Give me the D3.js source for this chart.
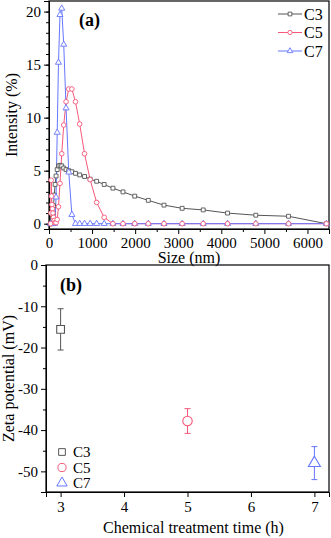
<!DOCTYPE html>
<html>
<head>
<meta charset="utf-8">
<script src="https://cdn.jsdelivr.net/npm/d3@7"></script>
<style>
  body { margin: 0; background: #fff; }
  svg { display: block; font-family: "Liberation Serif", "Times New Roman", serif; }
  svg text { font-family: "Liberation Serif", "Times New Roman", serif; }
</style>
</head>
<body>
<div id="chart"></div>
<script>
// panel (a): size distribution (nm vs intensity %)
const sizes = [37.84, 43.82, 50.75, 58.77, 68.06, 78.82, 91.28, 105.7, 122.4, 141.8, 164.2, 190.1, 220.2, 255.0, 295.3, 342.0, 396.1, 458.7, 531.2, 615.1, 712.4, 825.0, 955.4, 1106, 1281, 1484, 1718, 1990, 2305, 2669, 3091, 3580, 4145, 4801, 5560, 6439]
const c3Intensity = [0, 0, 0, 0.05, 0.2, 0.5, 1.0, 1.7, 2.7, 3.7, 4.5, 5.1, 5.45, 5.5, 5.45, 5.25, 5.1, 5.0, 4.9, 4.75, 4.6, 4.45, 4.2, 4.0, 3.7, 3.35, 3.0, 2.6, 2.2, 1.75, 1.45, 1.3, 1.0, 0.8, 0.7, 0]
const c5Intensity = [0, 1.0, 4.1, 2.6, 1.8, 1.4, 1.0, 0.6, 0.3, 0.1, 0.1, 0.4, 1.6, 3.8, 6.6, 9.3, 11.5, 12.7, 12.7, 11.5, 9.4, 6.6, 4.15, 2.0, 0.6, 0, 0, 0, 0, 0, 0, 0, 0, 0, 0, 0]
const c7Intensity = [0, 0, 0, 0, 0, 0, 0, 0, 0, 0.3, 2.5, 8.6, 15.2, 19.7, 20.3, 16.9, 10.9, 4.85, 0.85, 0, 0, 0, 0, 0, 0, 0, 0, 0, 0, 0, 0, 0, 0, 0, 0, 0]

// panel (b): zeta potential vs treatment time
const samples = ["C3", "C5", "C7"]
const times = [3, 5, 7]
const zeta = [-15.6, -37.8, -48.0]
const zetaErr = [5.0, 3.0, 4.0]

const colors = { C3: "#555555", C5: "#f5587a", C7: "#6677ff" }
const shapes = { C3: d3.symbolSquare, C5: d3.symbolCircle, C7: d3.symbolTriangle }

const width = 331, height = 538
const svg = d3.select("#chart").append("svg")
  .attr("width", width)
  .attr("height", height)

// ---------- panel (a)
const a = { left: 49, right: 329, top: 1, bottom: 229 }
const xa = d3.scaleLinear().domain([0, 6500]).range([a.left, a.right])
const ya = d3.scaleLinear().domain([-0.5, 21]).range([a.bottom, a.top])

const gA = svg.append("g")

gA.append("g")
  .attr("transform", `translate(0,${a.bottom})`)
  .call(d3.axisBottom(xa).tickValues(d3.range(500, 6500, 1000)).tickSize(3).tickFormat(""))
gA.append("g")
  .attr("transform", `translate(0,${a.bottom})`)
  .call(d3.axisBottom(xa).tickValues(d3.range(0, 6001, 1000)).tickSize(5).tickPadding(3).tickFormat(d3.format("d")))
gA.append("g")
  .attr("transform", `translate(${a.left},0)`)
  .call(d3.axisLeft(ya).tickValues(d3.range(0, 21, 1)).tickSize(3).tickFormat(""))
gA.append("g")
  .attr("transform", `translate(${a.left},0)`)
  .call(d3.axisLeft(ya).tickValues([0, 5, 10, 15, 20]).tickSize(5).tickPadding(3))

gA.append("rect")
  .attr("x", a.left).attr("y", a.top)
  .attr("width", a.right - a.left).attr("height", a.bottom - a.top)
  .attr("fill", "none").attr("stroke", "#000").attr("stroke-width", 1.2)

const seriesA = [
  { name: "C3", values: c3Intensity },
  { name: "C5", values: c5Intensity },
  { name: "C7", values: c7Intensity }
]

const lineA = d3.line().x((d, i) => xa(sizes[i])).y(d => ya(d))
const plotA = gA.append("g")

// lines first, then markers (red circles on top at the zero baseline)
seriesA.forEach(s => {
  plotA.append("path")
    .attr("d", lineA(s.values))
    .attr("fill", "none")
    .attr("stroke", colors[s.name])
    .attr("stroke-width", 1)
})
const markerSizeA = { C3: 15, C5: 17, C7: 16 }
;[seriesA[0], seriesA[2], seriesA[1]].forEach(s => {
  plotA.append("g").selectAll("path")
    .data(s.values)
    .join("path")
    .attr("transform", (d, i) => `translate(${xa(sizes[i])},${ya(d)})`)
    .attr("d", d3.symbol(shapes[s.name], markerSizeA[s.name]))
    .attr("fill", "#fff")
    .attr("stroke", colors[s.name])
    .attr("stroke-width", 0.9)
})

gA.append("text")
  .attr("x", 79).attr("y", 26)
  .attr("font-size", 18).attr("font-weight", "bold")
  .text("(a)")

// legend (a)
const legA = gA.append("g")
samples.forEach((name, i) => {
  const y = 14 + i * 18.5
  legA.append("line")
    .attr("x1", 278).attr("x2", 302).attr("y1", y).attr("y2", y)
    .attr("stroke", colors[name]).attr("stroke-width", 1)
  legA.append("path")
    .attr("transform", `translate(290,${y})`)
    .attr("d", d3.symbol(shapes[name], 14))
    .attr("fill", "#fff").attr("stroke", colors[name]).attr("stroke-width", 0.9)
  legA.append("text")
    .attr("x", 304).attr("y", y + 5.5)
    .attr("font-size", 16)
    .text(name)
})

gA.append("text")
  .attr("x", (a.left + a.right) / 2).attr("y", 263)
  .attr("text-anchor", "middle").attr("font-size", 16)
  .text("Size (nm)")
gA.append("text")
  .attr("transform", `translate(17,${(a.top + a.bottom) / 2}) rotate(-90)`)
  .attr("text-anchor", "middle").attr("font-size", 16)
  .text("Intensity (%)")

// ---------- panel (b)
const b = { left: 46, right: 329, top: 265, bottom: 492 }
const xb = d3.scaleLinear().domain([2.77, 7.23]).range([b.left, b.right])
const yb = d3.scaleLinear().domain([-55, 0]).range([b.bottom, b.top])

const gB = svg.append("g")

gB.append("g")
  .attr("transform", `translate(0,${b.bottom})`)
  .call(d3.axisBottom(xb).tickValues([3, 4, 5, 6, 7]).tickSize(5).tickPadding(4).tickFormat(d3.format("d")))
gB.append("g")
  .attr("transform", `translate(${b.left},0)`)
  .call(d3.axisLeft(yb).tickValues([-5, -15, -25, -35, -45]).tickSize(3).tickFormat(""))
gB.append("g")
  .attr("transform", `translate(${b.left},0)`)
  .call(d3.axisLeft(yb).tickValues([0, -10, -20, -30, -40, -50]).tickSize(5).tickPadding(3).tickFormat(d => d3.format("d")(d).replace("−", "-")))

gB.append("rect")
  .attr("x", b.left).attr("y", b.top)
  .attr("width", b.right - b.left).attr("height", b.bottom - b.top)
  .attr("fill", "none").attr("stroke", "#000").attr("stroke-width", 1.2)

const pointsB = samples.map((name, i) => ({ name, t: times[i], z: zeta[i], e: zetaErr[i] }))
const plotB = gB.append("g")

plotB.selectAll("g.err")
  .data(pointsB)
  .join("g")
  .attr("class", "err")
  .each(function (d) {
    const g = d3.select(this)
    const x = xb(d.t)
    g.append("line")
      .attr("x1", x).attr("x2", x)
      .attr("y1", yb(d.z + d.e)).attr("y2", yb(d.z - d.e))
      .attr("stroke", colors[d.name]).attr("stroke-width", 1)
    ;[d.z + d.e, d.z - d.e].forEach(v => {
      g.append("line")
        .attr("x1", x - 3).attr("x2", x + 3)
        .attr("y1", yb(v)).attr("y2", yb(v))
        .attr("stroke", colors[d.name]).attr("stroke-width", 1)
    })
  })

const markerSizeB = { C3: 60, C5: 70, C7: 62 }
plotB.selectAll("path.pt")
  .data(pointsB)
  .join("path")
  .attr("class", "pt")
  .attr("transform", d => `translate(${xb(d.t)},${yb(d.z)})`)
  .attr("d", d => d3.symbol(shapes[d.name], markerSizeB[d.name])())
  .attr("fill", "#fff")
  .attr("stroke", d => colors[d.name])
  .attr("stroke-width", 1.1)

gB.append("text")
  .attr("x", 60).attr("y", 291)
  .attr("font-size", 18).attr("font-weight", "bold")
  .text("(b)")

// legend (b)
const legB = gB.append("g")
samples.forEach((name, i) => {
  const y = 452 + i * 15.5
  legB.append("path")
    .attr("transform", `translate(62,${y})`)
    .attr("d", d3.symbol(shapes[name], markerSizeB[name] * 0.75))
    .attr("fill", "#fff").attr("stroke", colors[name]).attr("stroke-width", 1)
  legB.append("text")
    .attr("x", 73).attr("y", y + 5)
    .attr("font-size", 15)
    .text(name)
})

gB.append("text")
  .attr("x", (b.left + b.right) / 2 + 6).attr("y", 533)
  .attr("text-anchor", "middle").attr("font-size", 16)
  .text("Chemical treatment time (h)")
gB.append("text")
  .attr("transform", `translate(14,${(b.top + b.bottom) / 2}) rotate(-90)`)
  .attr("text-anchor", "middle").attr("font-size", 16)
  .text("Zeta potential (mV)")

svg.selectAll(".tick text")
  .attr("font-family", "Liberation Serif, serif")
  .attr("font-size", 15)
  .attr("fill", "#000")
svg.selectAll(".domain").attr("stroke", "#000")
svg.selectAll(".tick line").attr("stroke", "#000")
</script>
</body>
</html>
